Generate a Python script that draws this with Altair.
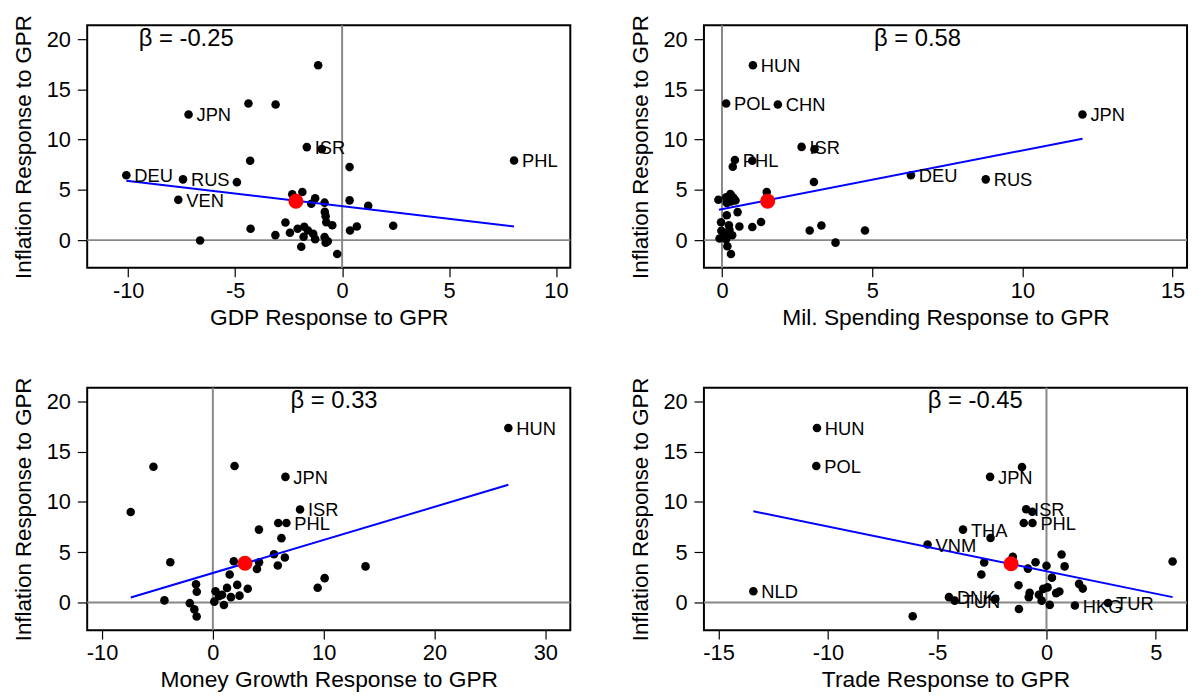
import altair as alt
import pandas as pd

FONT = "Liberation Sans"
GRAY = "#888888"
YTITLE = "Inflation Response to GPR"
YDOM = [-2.76, 21.38]
YTICKS = [0, 5, 10, 15, 20]

# ---------- Panel 1: GDP ----------
gdp_x = [-1.12, -4.38, -3.11, -7.18, -1.65, -0.95, -4.30, 8.04, 0.35, -10.09,
         -7.44, -4.92, -7.66, -2.33, -1.86, -1.26, -1.44, -0.82, 0.35, 1.22,
         -0.81, -0.77, -0.74, -0.46, 2.39, 0.69, 0.37, -2.65, -4.28, -3.12,
         -2.44, -2.08, -1.77, -1.60, -1.80, -1.35, -1.26, -0.82, -0.77, -0.67,
         -6.64, -1.91, -0.23]
gdp_y = [17.4, 13.6, 13.5, 12.5, 9.26, 9.06, 7.90, 7.93, 7.27, 6.45,
         6.05, 5.77, 4.01, 4.57, 4.79, 4.16, 3.62, 3.73, 3.96, 3.42,
         2.81, 2.37, 1.78, 1.48, 1.43, 1.36, 0.95, 1.76, 1.13, 0.50,
         0.73, 1.13, 1.33, 0.95, 0.33, 0.62, 0.10, 0.30, -0.25, -0.12,
         -0.03, -0.66, -1.38]
gdp_lab = ["", "", "", "JPN", "ISR", "", "", "PHL", "", "DEU",
           "RUS", "", "VEN", "", "", "", "", "", "", "",
           "", "", "", "", "", "", "", "", "", "",
           "", "", "", "", "", "", "", "", "", "",
           "", "", ""]
gdp_mean = [-2.16, 3.87]
gdp_fit_x = [-10.09, 8.04]
gdp_fit_y = [5.92, 1.35]

# ---------- Panel 2: Military spending ----------
mil_x = [1.03, 0.14, 1.86, 12.0, 2.65, 3.08, 0.43, 1.01, 0.36, 6.29,
         8.78, 3.06, 1.49, -0.12, 0.28, 0.14, 0.39, 0.45, 0.16, 0.30,
         0.52, 0.16, -0.03, 0.23, 0.58, 1.01, 1.30, -0.02, 0.25, 0.10,
         0.34, -0.08, 0.14, 0.18, 0.30, 2.92, 3.31, 4.76, 3.78, 0.05,
         0.20, 0.32]
mil_y = [17.4, 13.6, 13.5, 12.5, 9.28, 9.05, 7.98, 7.90, 7.30, 6.45,
         6.05, 5.78, 4.78, 4.02, 4.60, 4.27, 4.20, 3.95, 3.71, 3.85,
         2.79, 2.47, 1.78, 1.48, 1.35, 1.30, 1.81, 0.93, 1.02, 0.59,
         0.49, 0.16, 0.10, -0.60, -1.38, 0.95, 1.45, 0.96, -0.25, 0.30,
         0.75, 4.40]
mil_lab = ["HUN", "POL", "CHN", "JPN", "ISR", "", "PHL", "", "", "DEU",
           "RUS", "", "", "", "", "", "", "", "", "",
           "", "", "", "", "", "", "", "", "", "",
           "", "", "", "", "", "", "", "", "", "",
           "", ""]
mil_mean = [1.52, 3.88]
mil_fit_x = [-0.10, 12.0]
mil_fit_y = [3.03, 10.10]

# ---------- Panel 3: Money growth ----------
mon_x = [26.67, -5.36, 1.96, 6.55, -7.41, 7.87, 5.90, 6.64, 4.16, 6.19,
         5.52, 6.50, -3.84, 1.89, 4.17, 3.98, 5.86, 13.78, 1.52, -1.52,
         -1.45, 10.09, 9.46, -4.37, -2.08, -1.67, -1.46, 0.24, 0.13, 1.28,
         2.20, 3.15, 0.83, 1.63, 2.41, 1.00, 0.55]
mon_y = [17.37, 13.50, 13.59, 12.50, 9.00, 9.25, 7.90, 7.90, 7.25, 6.40,
         4.79, 4.47, 4.01, 4.10, 3.99, 3.33, 3.67, 3.59, 2.78, 1.81,
         1.07, 2.42, 1.46, 0.21, -0.07, -0.69, -1.40, 1.12, 0.08, 1.45,
         1.75, 1.37, 0.76, 0.53, 0.68, -0.26, 0.62]
mon_lab = ["HUN", "", "", "JPN", "", "ISR", "", "PHL", "", "",
           "", "", "", "", "", "", "", "", "", "",
           "", "", "", "", "", "", "", "", "", "",
           "", "", "", "", "", "", ""]
mon_mean = [2.90, 3.90]
mon_fit_x = [-7.41, 26.67]
mon_fit_y = [0.49, 11.71]

# ---------- Panel 4: Trade ----------
trd_x = [-10.50, -10.53, -1.12, -2.58, -0.93, -0.65, -1.04, -0.64, -3.82, -2.56,
         -5.44, -1.54, -2.85, 0.69, -0.50, 0.00, 0.83, 5.77, -0.85, -2.98,
         0.25, -1.28, 1.49, 1.66, -13.41, -4.46, -4.20, -2.34, -0.77, -0.81,
         -0.35, -0.15, 0.05, -0.22, 0.15, 0.44, 0.59, -1.26, 1.30, 2.82,
         -6.12]
trd_y = [17.37, 13.59, 13.49, 12.50, 9.28, 9.02, 7.90, 7.90, 7.25, 6.42,
         5.76, 4.54, 3.98, 4.77, 4.00, 3.66, 3.59, 4.08, 3.37, 2.78,
         2.47, 1.71, 1.85, 1.38, 1.12, 0.53, 0.18, 0.36, 0.96, 0.53,
         0.76, 1.35, 1.50, 0.18, -0.24, 0.93, 1.09, -0.65, -0.31, -0.06,
         -1.38]
trd_lab = ["HUN", "POL", "", "JPN", "ISR", "", "", "PHL", "THA", "",
           "VNM", "", "", "", "", "", "", "", "", "",
           "", "", "", "", "NLD", "DNK", "TUN", "", "", "",
           "", "", "", "", "", "", "", "", "HKG", "TUR",
           ""]
trd_mean = [-1.62, 3.85]
trd_fit_x = [-13.41, 5.77]
trd_fit_y = [9.08, 0.53]


def make_panel(xs, ys, labs, mean, fit_x, fit_y, beta_txt, beta_x,
               xdom, xticks, xtitle):
    X = lambda: alt.X("x:Q",
                      scale=alt.Scale(domain=xdom, nice=False, zero=False),
                      axis=alt.Axis(values=xticks, title=xtitle, tickSize=9,
                                    labelPadding=4, titlePadding=5,
                                    titleFontSize=23,
                                    labelExpr="'' + datum.value"))
    Y = lambda: alt.Y("y:Q",
                      scale=alt.Scale(domain=YDOM, nice=False, zero=False),
                      axis=alt.Axis(values=YTICKS, title=YTITLE, tickSize=10,
                                    labelPadding=7, titlePadding=11,
                                    titleFontSize=22.5,
                                    labelExpr="'' + datum.value"))
    pts = pd.DataFrame({"x": xs, "y": ys, "lab": labs})
    vline = alt.Chart(pd.DataFrame({"x": [0]})).mark_rule(
        color=GRAY, strokeWidth=2).encode(x=X())
    hline = alt.Chart(pd.DataFrame({"y": [0]})).mark_rule(
        color=GRAY, strokeWidth=2).encode(y=Y())
    dots = alt.Chart(pts).mark_circle(size=75, color="black", opacity=1).encode(
        x=X(), y=Y())
    fit = alt.Chart(pd.DataFrame({"x": fit_x, "y": fit_y})).mark_line(
        color="#0000ff", strokeWidth=2).encode(x=X(), y=Y())
    red = alt.Chart(pd.DataFrame({"x": [mean[0]], "y": [mean[1]]})).mark_circle(
        size=230, color="#ff0000", opacity=1).encode(x=X(), y=Y())
    labels = alt.Chart(pts).mark_text(
        align="left", baseline="middle", dx=8, dy=1, fontSize=18.5, font=FONT,
        color="black").encode(x=X(), y=Y(), text="lab:N")
    beta = alt.Chart(pd.DataFrame({"x": [beta_x], "y": [20.0], "t": [beta_txt]})).mark_text(
        align="center", baseline="middle", fontSize=24, font=FONT,
        color="black").encode(x=X(), y=Y(), text="t:N")
    return alt.layer(vline, hline, dots, fit, red, labels, beta).properties(
        width=488, height=245)


p1 = make_panel(gdp_x, gdp_y, gdp_lab, gdp_mean, gdp_fit_x, gdp_fit_y,
                "β = -0.25", -7.29, [-11.92, 10.67], [-10, -5, 0, 5, 10],
                "GDP Response to GPR")
p2 = make_panel(mil_x, mil_y, mil_lab, mil_mean, mil_fit_x, mil_fit_y,
                "β = 0.58", 6.51, [-0.60, 15.48], [0, 5, 10, 15],
                "Mil. Spending Response to GPR")
p3 = make_panel(mon_x, mon_y, mon_lab, mon_mean, mon_fit_x, mon_fit_y,
                "β = 0.33", 10.94, [-11.34, 32.26], [-10, 0, 10, 20, 30],
                "Money Growth Response to GPR")
p4 = make_panel(trd_x, trd_y, trd_lab, trd_mean, trd_fit_x, trd_fit_y,
                "β = -0.45", -3.26, [-15.67, 6.43], [-15, -10, -5, 0, 5],
                "Trade Response to GPR")

chart = alt.concat(p1, p2, p3, p4, columns=2,
                   spacing=alt.RowColnumber(row=46, column=56)).configure_view(
    stroke="black", strokeWidth=2
).configure_axis(
    grid=False, domain=False, tickColor="black", tickWidth=1.2,
    labelFont=FONT, labelFontSize=22, labelColor="black",
    titleFont=FONT, titleFontWeight="normal", titleColor="black"
).properties(
    padding={"top": 2, "left": 3, "right": 2, "bottom": 2},
    background="white"
)

chart.save("out.html", embed_options={"renderer": "svg", "actions": False})
